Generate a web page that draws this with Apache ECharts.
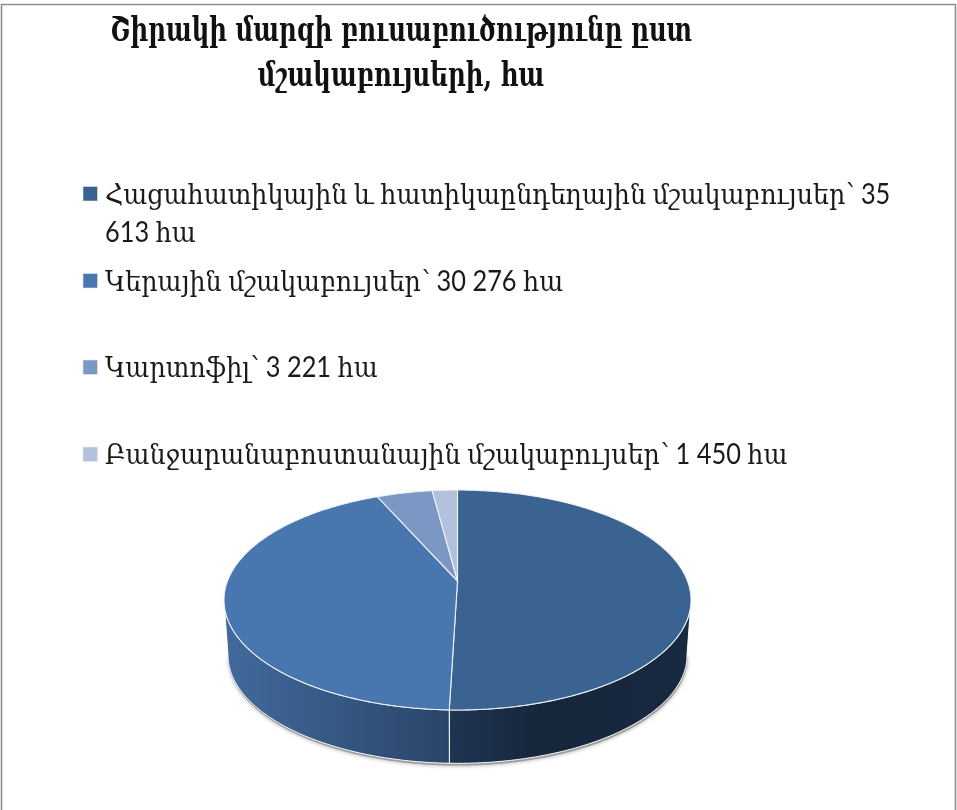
<!DOCTYPE html>
<html>
<head>
<meta charset="utf-8">
<style>html,body{margin:0;padding:0;background:#fff}#c{width:957px;height:810px}</style>
<script src="https://cdn.jsdelivr.net/npm/echarts@6/dist/echarts.min.js"></script>
</head>
<body>
<div id="c"></div>
<script>
const titleLines = ['Շիրակի մարզի բուսաբուծությունը ըստ', 'մշակաբույսերի, հա'];
const categories = ['Հացահատիկային և հատիկաընդեղային մշակաբույսեր', 'Կերային մշակաբույսեր', 'Կարտոֆիլ', 'Բանջարանաբոստանային մշակաբույսեր'];
const values = [35613, 30276, 3221, 1450];
const valueLabels = ['35\n613 հա', '30 276 հա', '3 221 հա', '1 450 հա'];
const colors = ['#3b6391', '#4876ae', '#7b98c4', '#b2c1dc'];

const total = values.reduce((a, b) => a + b, 0);
const startAngles = values.map((_, i) => values.slice(0, i).reduce((a, b) => a + b, 0) / total * 360);

// Tilted-disc projection
const CX = 457.5, K = 230, C = -0.1727, A = 6.36, B = 581;
function topPt(deg) {
  const t = deg * Math.PI / 180, u = Math.sin(t), v = -Math.cos(t), w = 1 + C * v;
  return [CX + K * u / w, (A * v + B) / w];
}
function basePt(deg) {
  const p = topPt(deg);
  return [CX + (p[0] - CX) * 0.983, 655 + (p[1] - 600) * 0.985];
}
function arc(fn, a, b) {
  const n = Math.max(2, Math.ceil(Math.abs(b - a) * 2)), pts = [];
  for (let i = 0; i <= n; i++) pts.push(fn(a + (b - a) * i / n));
  return pts;
}
const wallRange = [100, 260];
const wallFill = [
  new echarts.graphic.LinearGradient(449, 0, 687, 0, [
    { offset: 0, color: '#1e3553' }, { offset: 0.38, color: '#16263b' }, { offset: 1, color: '#182a40' }], true),
  new echarts.graphic.LinearGradient(228, 0, 449, 0, [
    { offset: 0, color: '#41699b' }, { offset: 1, color: '#2a4569' }], true)
];

const textFont = 'Lato, "DejaVu Serif", serif';
const legendY = [195, 282, 368, 455];
const markerY = [193.5, 280.5, 367, 454];
const graphics = [
  { type: 'polyline', silent: true, shape: { points: [[1.5, 810], [1.5, 4.5], [955.5, 4.5], [955.5, 810]] },
    style: { stroke: '#8e8e8e', lineWidth: 1.6, fill: null } }
];
titleLines.forEach((t, i) => graphics.push({
  type: 'text', x: 401, y: [32, 77][i], scaleX: 0.843, scaleY: 1.15,
  style: { text: t, font: 'bold 29px "DejaVu Serif", serif', fill: '#111', align: 'center', verticalAlign: 'middle' }
}));
categories.forEach((c, i) => {
  graphics.push({ type: 'rect', shape: { x: 83, y: markerY[i] - 7, width: 14.5, height: 14.5 },
    style: { fill: colors[i], stroke: '#e4e9f2', lineWidth: 0.6 } });
  graphics.push({ type: 'text', x: 105, y: legendY[i] - 19, scaleX: 0.905, scaleY: 1,
    style: { text: c + '՝ ' + valueLabels[i], font: '28px ' + textFont, lineHeight: 38, fill: '#1a1a1a', align: 'left', verticalAlign: 'top' } });
});

const option = {
  animation: false,
  backgroundColor: '#fff',
  graphic: graphics,
  series: [
    { // drop shadow beneath the disc
      type: 'custom', coordinateSystem: 'none', silent: true, data: [[total]],
      renderItem: () => ({
        type: 'polygon',
        shape: { points: arc(basePt, wallRange[0], wallRange[1]).map(p => [p[0] + 0.5, p[1] + 2.2]) },
        style: { fill: '#9c9c9c', shadowBlur: 4, shadowColor: 'rgba(0,0,0,0.35)' }
      })
    },
    { // side walls
      type: 'custom', coordinateSystem: 'none', silent: true, data: values.map(v => [v]),
      renderItem: (params, api) => {
        const i = params.dataIndex, a0 = startAngles[i], a1 = a0 + api.value(0) / total * 360;
        const a = Math.max(a0, wallRange[0]), b = Math.min(a1, wallRange[1]);
        if (b <= a) return null;
        return {
          type: 'polygon',
          shape: { points: arc(topPt, a, b).concat(arc(basePt, b, a)) },
          style: { fill: wallFill[i], stroke: '#fff', lineWidth: 1 }
        };
      }
    },
    { // top face
      type: 'custom', coordinateSystem: 'none', silent: true, data: values.map(v => [v]),
      renderItem: (params, api) => {
        const i = params.dataIndex, a0 = startAngles[i], a1 = a0 + api.value(0) / total * 360;
        return {
          type: 'polygon',
          shape: { points: [[CX, B]].concat(arc(topPt, a0, a1)) },
          style: { fill: colors[i], stroke: '#eef2f8', lineWidth: 1.1 }
        };
      }
    }
  ]
};
echarts.init(document.getElementById('c'), null, { renderer: 'canvas' }).setOption(option);
</script>
</body>
</html>
